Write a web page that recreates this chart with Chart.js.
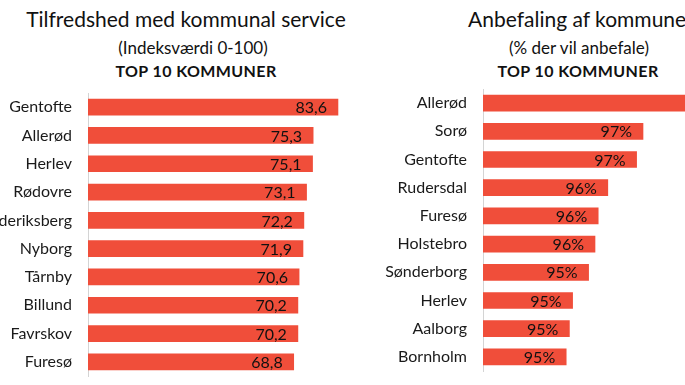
<!DOCTYPE html>
<html lang="da">
<head>
<meta charset="UTF-8">
<title>Top 10 kommuner</title>
<script src="https://cdn.jsdelivr.net/npm/chart.js@4.4.0/dist/chart.umd.min.js"></script>
<style>
    html, body { margin: 0; padding: 0; background: #fff; }
    body { width: 685px; height: 385px; overflow: hidden; position: relative; font-family: Lato, Roboto, sans-serif; color: #111; }
    .head { position: absolute; text-align: center; white-space: nowrap; }
    .t1 { font-size: 21px; }
    .t2 { font-size: 17px; }
    .t3 { font-size: 16px; font-weight: bold; letter-spacing: 0.4px; }
    .box { position: absolute; }
</style>
</head>
<body>
    <!-- overskrifter -->
    <div class="head t1" style="left:-14px;width:400px;top:6px">Tilfredshed med kommunal service</div>
    <div class="head t2" style="left:-7px;width:400px;top:37px">(Indeksværdi 0-100)</div>
    <div class="head t3" style="left:-4px;width:400px;top:61px">TOP 10 KOMMUNER</div>

    <div class="head t1" style="left:383px;width:400px;top:6px">Anbefaling af kommunen</div>
    <div class="head t2" style="left:379px;width:400px;top:37px">(% der vil anbefale)</div>
    <div class="head t3" style="left:378px;width:400px;top:61px">TOP 10 KOMMUNER</div>

    <div class="box" style="left:0;top:85px;width:390px;height:300px"><canvas id="chartLeft"></canvas></div>
    <div class="box" style="left:372px;top:85px;width:370px;height:300px"><canvas id="chartRight"></canvas></div>
<script>
// venstre: tilfredshed (indeks)
const serviceLabels = ['Gentofte', 'Allerød', 'Herlev', 'Rødovre', 'Frederiksberg', 'Nyborg', 'Tårnby', 'Billund', 'Favrskov', 'Furesø'];
const serviceValues = [83.6, 75.3, 75.1, 73.1, 72.2, 71.9, 70.6, 70.2, 70.2, 68.8];

// højre: anbefaling (%)
const recommendLabels = ['Allerød', 'Sorø', 'Gentofte', 'Rudersdal', 'Furesø', 'Holstebro', 'Sønderborg', 'Herlev', 'Aalborg', 'Bornholm'];
const recommendValues = [100, 97.0, 96.8, 95.9, 95.6, 95.5, 95.3, 94.8, 94.7, 94.6];

const barColor = '#F04E3A';
const fontName = 'Lato, Roboto, sans-serif';

// tal inde i søjlen, ved søjlens ende
const valueLabels = {
    id: 'valueLabels',
    afterDatasetsDraw(chart, args, opts) {
        const ctx = chart.ctx;
        const meta = chart.getDatasetMeta(0);
        const data = chart.data.datasets[0].data;
        ctx.save();
        ctx.font = '16px ' + fontName;
        ctx.fillStyle = '#111';
        ctx.textAlign = 'right';
        ctx.textBaseline = 'middle';
        meta.data.forEach(function(bar, i) {
            ctx.fillText(opts.format(data[i]), bar.x - 11, bar.y + 1);
        });
        ctx.restore();
    }
};

function f_options(p_min, p_max, p_axisW, p_pad, p_format) {
    return {
        indexAxis: 'y',
        responsive: true,
        maintainAspectRatio: false,
        animation: false,
        layout: { padding: p_pad },
        plugins: {
            legend: { display: false },
            tooltip: { enabled: false },
            valueLabels: { format: p_format }
        },
        scales: {
            x: { display: false, min: p_min, max: p_max },
            y: {
                // fast bredde og ingen ekstra luft over/under
                afterFit: function(scale) {
                    scale.width = p_axisW;
                    scale.paddingTop = 0;
                    scale.paddingBottom = 0;
                },
                grid: { display: false, drawTicks: false },
                border: { display: true, color: '#d4d4d4', width: 1 },
                ticks: { padding: 16, color: '#1a1a1a', font: { family: fontName, size: 16 } }
            }
        }
    };
}

new Chart(document.getElementById('chartLeft'), {
    type: 'bar',
    data: {
        labels: serviceLabels,
        datasets: [{ data: serviceValues, backgroundColor: barColor, barThickness: 16 }]
    },
    options: f_options(0, 100, 88, { top: 8, bottom: 9, right: 3 },
        function(v) { return v.toFixed(1).replace('.', ','); }),
    plugins: [valueLabels]
});

new Chart(document.getElementById('chartRight'), {
    type: 'bar',
    data: {
        labels: recommendLabels,
        datasets: [{ data: recommendValues, backgroundColor: barColor, barThickness: 16 }]
    },
    options: f_options(92, 100, 111, { top: 4, bottom: 14, right: 3 },
        function(v) { return Math.round(v) + '%'; }),
    plugins: [valueLabels]
});
</script>
</body>
</html>
